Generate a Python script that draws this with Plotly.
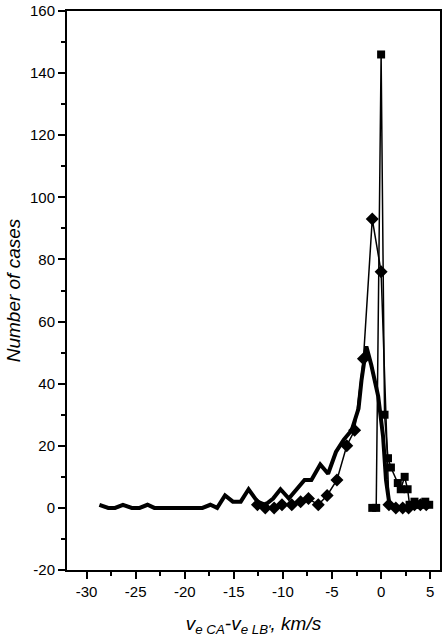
import plotly.graph_objects as go

# thick curve (no markers)
thick_x = [-28.7, -27.8, -27.1, -26.3, -25.4, -24.6, -23.8, -23.1, -22.2, -21.4,
           -20.6, -19.8, -19.0, -18.2, -17.4, -16.7, -15.9, -15.1, -14.3, -13.5,
           -12.6, -11.8, -11.0, -10.25, -9.4, -8.6, -7.8, -7.1, -6.2, -5.4,
           -4.6, -3.8, -3.0, -2.3, -2.0, -1.5, -1.0, -0.3, 0.2, 0.5, 0.9]
thick_y = [1, 0, 0, 1, 0, 0, 1, 0, 0, 0,
           0, 0, 0, 0, 1, 0, 4, 2, 2, 6,
           2, 1, 3, 6, 3, 6, 9, 9, 14, 11,
           18, 22, 25, 32, 41, 52, 46, 36, 23, 9, 0]

# diamonds
dia_x = [-12.6, -11.8, -10.9, -10.1, -9.1, -8.2, -7.4, -6.4, -5.5, -4.5,
         -3.5, -2.7, -1.8, -0.9, 0.0, 0.8, 1.5, 2.2, 2.8, 3.4, 4.0, 4.6]
dia_y = [1, 0, 0, 1, 1, 2, 3, 1, 4, 9,
         20, 25, 48, 93, 76, 1, 0, 0, 0, 1, 1, 1]

# squares
sq_x = [-0.9, -0.5, 0.0, 0.35, 0.7, 1.0, 1.7, 2.0, 2.4, 2.7, 2.9, 3.4, 3.7, 4.1, 4.5, 4.9]
sq_y = [0, 0, 146, 30, 16, 13, 8, 6, 10, 6, 1, 2, 1, 1, 2, 1]

x_ticks = [-30, -25, -20, -15, -10, -5, 0, 5]
y_ticks = [-20, 0, 20, 40, 60, 80, 100, 120, 140, 160]

fig = go.Figure()
fig.add_trace(go.Scatter(x=thick_x, y=thick_y, mode="lines",
                         line=dict(color="black", width=4)))
fig.add_trace(go.Scatter(x=dia_x, y=dia_y, mode="lines+markers",
                         line=dict(color="black", width=1.5),
                         marker=dict(symbol="diamond", size=10, color="black")))
fig.add_trace(go.Scatter(x=sq_x, y=sq_y, mode="lines+markers",
                         line=dict(color="black", width=1.5),
                         marker=dict(symbol="square", size=8, color="black")))

fig.update_layout(
    width=444, height=637,
    margin=dict(l=67, r=2, t=8, b=66),
    plot_bgcolor="white", paper_bgcolor="white",
    showlegend=False,
    font=dict(family="Liberation Sans, Arial", size=15, color="black"),
)
fig.update_xaxes(
    range=[-32, 6], tickvals=x_ticks, ticktext=[str(v) for v in x_ticks],
    showgrid=False, zeroline=False,
    showline=True, linecolor="black", linewidth=2, mirror=True,
    ticks="outside", ticklen=7, tickwidth=2, tickcolor="black",
    minor=dict(ticks="outside", tickvals=[-27.5, -22.5, -17.5, -12.5, -7.5, -2.5, 2.5],
               ticklen=4, tickwidth=2, tickcolor="black"),
    title=dict(text="<i>v<sub>e CA</sub>-v<sub>e LB'</sub>, km/s</i>",
               font=dict(size=19), standoff=22),
)
fig.update_yaxes(
    range=[-20, 160], tickvals=y_ticks, ticktext=[str(v) for v in y_ticks],
    ticklabeloverflow="allow",
    showgrid=False, zeroline=False,
    showline=True, linecolor="black", linewidth=2, mirror=True,
    ticks="outside", ticklen=7, tickwidth=2, tickcolor="black",
    minor=dict(ticks="outside", tickvals=[-10, 10, 30, 50, 70, 90, 110, 130, 150],
               ticklen=4, tickwidth=2, tickcolor="black"),
    title=dict(text="<i>Number of cases</i>", font=dict(size=19), standoff=4),
)

# drop the default page margin so the figure sits at the window corner
fig.write_html("out.html", config={"displayModeBar": False},
               post_script="document.body.style.margin='0';")
